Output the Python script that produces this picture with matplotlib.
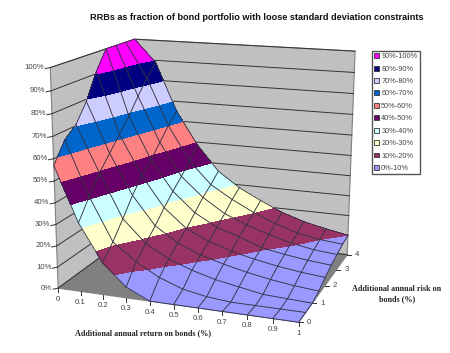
import numpy as np
import matplotlib
matplotlib.use('Agg')
from matplotlib import pyplot as plt
from matplotlib.patches import Patch, Polygon

plt.rcParams['font.family'] = ['Liberation Sans', 'DejaVu Sans']

title = 'RRBs as fraction of bond portfolio with loose standard deviation constraints'
xlabel = 'Additional annual return on bonds (%)'
ylabel = 'Additional annual risk on\nbonds (%)'

returns = [0, 0.1, 0.2, 0.3, 0.4, 0.5, 0.6, 0.7, 0.8, 0.9, 1]
risks = [0, 0.5, 1, 1.5, 2, 2.5, 3, 3.5, 4]

# one row per risk value
z_0 = [57, 32, 15, 5, 0, 0, 0, 0, 0, 0, 0]
z_05 = [66, 41, 21, 13, 7, 3, 1, 0, 0, 0, 0]
z_1 = [70.5, 49, 28.5, 18, 12, 8, 5, 3, 1, 0.5, 0]
z_15 = [79, 55.5, 36.5, 23, 16, 11.5, 8.5, 6, 4, 2.5, 1.5]
z_2 = [91, 62, 43, 28.5, 19.5, 14.5, 11, 8.5, 6.5, 5, 4]
z_25 = [100, 68.5, 48, 33.5, 24, 18, 14.5, 10.5, 8.5, 7, 6]
z_3 = [100, 76, 54, 38, 28.5, 21.5, 17, 13.5, 10.5, 8.5, 7.5]
z_35 = [100, 83, 60, 43, 32, 25.5, 20, 15.5, 12, 10, 9]
z_4 = [100, 89, 65, 48.5, 36, 28.5, 23, 18, 14.5, 12, 10]

levels = [0, 10, 20, 30, 40, 50, 60, 70, 80, 90, 100]
band_colors = ['#9999FF', '#993366', '#FFFFCC', '#CCFFFF', '#660066',
               '#FF8080', '#0066CC', '#CCCCFF', '#000080', '#FF00FF']
band_labels = ['0%-10%', '10%-20%', '20%-30%', '30%-40%', '40%-50%',
               '50%-60%', '60%-70%', '70%-80%', '80%-90%', '90%-100%']

# box corners (return, risk, percent) and where they land in the image
corners = [(0, 0, 0), (1, 0, 0), (1, 4, 0), (1, 4, 100), (0, 0, 100), (0, 4, 100)]
pixels = [(58, 288), (299, 322), (347, 255), (355, 51), (50, 68), (135, 39)]

rows = []
for (a, b, c), (u, v) in zip(corners, pixels):
    rows.append([a, b, c, 1, 0, 0, 0, 0, -u * a, -u * b, -u * c, -u])
    rows.append([0, 0, 0, 0, a, b, c, 1, -v * a, -v * b, -v * c, -v])
P = np.linalg.svd(np.array(rows, dtype=float))[2][-1].reshape(3, 4)


def project(a, b, c):
    a, b, c = np.asarray(a, float), np.asarray(b, float), np.asarray(c, float)
    w = P[2, 0] * a + P[2, 1] * b + P[2, 2] * c + P[2, 3]
    u = (P[0, 0] * a + P[0, 1] * b + P[0, 2] * c + P[0, 3]) / w
    v = (P[1, 0] * a + P[1, 1] * b + P[1, 2] * c + P[1, 3]) / w
    return u, v


def box_poly(ax, pts, color):
    xy = [project(*p) for p in pts]
    ax.add_patch(Polygon(xy, closed=True, facecolor=color, edgecolor='#808080', lw=0.8, zorder=1))


fig = plt.figure(figsize=(4.5, 3.53), dpi=100)
ax = fig.add_axes([0, 0, 1, 1])
ax.set_xlim(0, 450)
ax.set_ylim(353, 0)
ax.axis('off')

box_poly(ax, [(0, 0, 0), (0, 0, 100), (0, 4, 100), (0, 4, 0)], '#C0C0C0')
box_poly(ax, [(0, 4, 0), (0, 4, 100), (1, 4, 100), (1, 4, 0)], '#C0C0C0')
box_poly(ax, [(0, 0, 0), (1, 0, 0), (1, 4, 0), (0, 4, 0)], '#808080')

# gridlines on the walls and ticks on the percent axis
for lev in levels:
    u, v = project([0, 0, 1], [0, 4, 4], [lev, lev, lev])
    ax.plot(u, v, color='#333333', lw=0.7, zorder=2)
    ax.plot([u[0] - 5, u[0]], [v[0] + 1, v[0]], color='#333333', lw=0.7, zorder=2)
    ax.text(u[0] - 6, v[0], f'{lev}%', ha='right', va='center', fontsize=5.6, color='#444444')

# surface
Z = np.array([z_0, z_05, z_1, z_15, z_2, z_25, z_3, z_35, z_4])
R, S = np.meshgrid(returns, risks)
U, V = project(R, S, Z)
ax.contourf(U, V, Z, levels=levels, colors=band_colors, zorder=3)
for i in range(len(risks)):
    ax.plot(U[i], V[i], color='#333344', lw=0.65, zorder=4)
for j in range(len(returns)):
    ax.plot(U[:, j], V[:, j], color='#333344', lw=0.65, zorder=4)

# return ticks
for r in returns:
    u, v = project(r, 0, 0)
    ax.plot([u, u], [v, v + 4], color='#333333', lw=0.7, zorder=2)
    ax.text(u, v + 11, f'{r:g}', ha='center', va='center', fontsize=5.6, color='#444444')

# risk ticks
for s in [0, 1, 2, 3, 4]:
    u, v = project(1, s, 0)
    ax.plot([u, u + 4], [v, v], color='#333333', lw=0.7, zorder=2)
    ax.text(u + 10, v, f'{s}', ha='center', va='center', fontsize=5.6, color='#444444')

fig.text(257 / 450, 1 - 18 / 353, title, ha='center', va='center', fontsize=6.55,
         fontweight='bold', color='#111111')
fig.text(143 / 450, 1 - 333 / 353, xlabel, ha='center', va='center', fontsize=5.9,
         fontweight='bold', family='Liberation Serif', color='#222222')
fig.text(397 / 450, 1 - 294 / 353, ylabel, ha='center', va='center', fontsize=5.9,
         fontweight='bold', family='Liberation Serif', color='#222222', linespacing=1.35)

handles = [Patch(facecolor=c, edgecolor='#333333', lw=0.6) for c in band_colors[::-1]]
ax.legend(handles, band_labels[::-1], loc='upper left',
          bbox_to_anchor=(372 / 450, 1 - 51 / 353), fontsize=5.3, frameon=True,
          fancybox=False, edgecolor='#555555', framealpha=1, borderpad=0.3,
          handlelength=0.65, handleheight=0.65, handletextpad=0.3, labelspacing=0.73,
          borderaxespad=0, labelcolor='#444444')

fig.savefig('out.png', dpi=100)
